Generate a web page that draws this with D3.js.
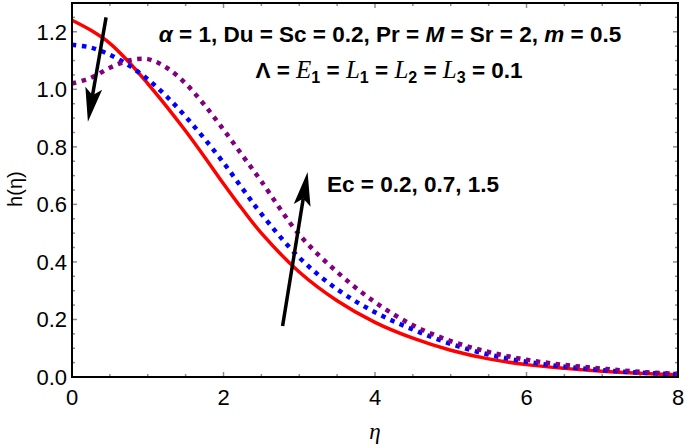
<!DOCTYPE html>
<html>
<head>
<meta charset="utf-8">
<script src="https://cdn.jsdelivr.net/npm/d3@7"></script>
<style>
  body { margin: 0; background: #fff; }
  text { font-family: "Liberation Sans", Arial, sans-serif; }
</style>
</head>
<body>
<div class="chart"></div>
<script>
// eta grid and h(eta) profiles for Ec = 0.2, 0.7, 1.5
var eta = [0, 0.25, 0.5, 0.75, 1, 1.25, 1.5, 1.75, 2, 2.25, 2.5, 3, 3.5, 4, 4.5, 5, 5.5, 6, 6.5, 7, 7.5, 8];
var hEc02 = [1.24, 1.205, 1.16, 1.095, 1.02, 0.94, 0.855, 0.765, 0.672, 0.583, 0.50, 0.365, 0.265, 0.19, 0.135, 0.093, 0.063, 0.043, 0.03, 0.02, 0.013, 0.008];
var hEc07 = [1.155, 1.145, 1.12, 1.083, 1.035, 0.975, 0.905, 0.828, 0.745, 0.655, 0.567, 0.415, 0.305, 0.225, 0.165, 0.115, 0.078, 0.053, 0.036, 0.024, 0.015, 0.01];
var hEc15 = [1.02, 1.04, 1.075, 1.10, 1.105, 1.075, 1.02, 0.945, 0.86, 0.77, 0.68, 0.495, 0.365, 0.26, 0.18, 0.125, 0.087, 0.06, 0.042, 0.029, 0.018, 0.011];

var xTicks = [0, 2, 4, 6, 8];
var yTicks = [0, 0.2, 0.4, 0.6, 0.8, 1.0, 1.2];

var margin = {top: 3, right: 7, bottom: 69, left: 72},
    width = 685 - margin.left - margin.right,
    height = 446 - margin.top - margin.bottom;

var svg = d3.select(".chart").append("svg")
    .attr("width", 685)
    .attr("height", 446)
  .append("g")
    .attr("transform", "translate(" + margin.left + "," + margin.top + ")");

var x = d3.scaleLinear().domain([0, 8]).range([0, width]);
var y = d3.scaleLinear().domain([0, 1.3]).range([height, 0]);

// minor + major ticks, all pointing inward
var xMinor = d3.range(0, 8.001, 0.5);
var yMinor = d3.range(0, 1.3001, 0.05);

function tickSet(g, vals, major, fn) {
  g.selectAll(null).data(vals).enter().append("line")
    .attr("stroke", "#8c8c8c")
    .attr("stroke-width", 1.5)
    .each(function(d) {
      var isMajor = major.some(function(m) { return Math.abs(m - d) < 1e-6; });
      fn(d3.select(this), d, isMajor ? 5 : 3);
    });
}

var ticks = svg.append("g");
tickSet(ticks, xMinor, xTicks, function(s, d, len) {
  s.attr("x1", x(d)).attr("x2", x(d)).attr("y1", height).attr("y2", height - len);
});
tickSet(ticks, xMinor, xTicks, function(s, d, len) {
  s.attr("x1", x(d)).attr("x2", x(d)).attr("y1", 0).attr("y2", len);
});
tickSet(ticks, yMinor, yTicks, function(s, d, len) {
  s.attr("x1", 0).attr("x2", len).attr("y1", y(d)).attr("y2", y(d));
});
tickSet(ticks, yMinor, yTicks, function(s, d, len) {
  s.attr("x1", width).attr("x2", width - len).attr("y1", y(d)).attr("y2", y(d));
});

// curves
var series = [
  {vals: hEc02, color: "#ff0000", dash: null, w: 3.5},
  {vals: hEc07, color: "#0000ff", dash: "4.5,5.5", w: 4.5},
  {vals: hEc15, color: "#800080", dash: "4.5,5.5", w: 4.5}
];

var line = d3.line()
    .x(function(d) { return x(d[0]); })
    .y(function(d) { return y(d[1]); })
    .curve(d3.curveCatmullRom.alpha(0.5));

series.forEach(function(s) {
  svg.append("path")
    .datum(eta.map(function(e, i) { return [e, s.vals[i]]; }))
    .attr("fill", "none")
    .attr("stroke", s.color)
    .attr("stroke-width", s.w)
    .attr("stroke-dasharray", s.dash)
    .attr("d", line);
});

// frame
svg.append("rect")
  .attr("x", 0).attr("y", 0)
  .attr("width", width).attr("height", height)
  .attr("fill", "none")
  .attr("stroke", "#000")
  .attr("stroke-width", 2);

// tick labels
svg.selectAll(".xl").data(xTicks).enter().append("text")
  .attr("x", function(d) { return x(d); })
  .attr("y", height + 28)
  .attr("text-anchor", "middle")
  .style("font-size", "22px")
  .text(function(d) { return d; });

svg.selectAll(".yl").data(yTicks).enter().append("text")
  .attr("x", -5)
  .attr("y", function(d) { return y(d) + 8; })
  .attr("text-anchor", "end")
  .style("font-size", "22px")
  .text(function(d) { return d.toFixed(1); });

// axis titles
svg.append("text")
  .attr("x", x(4))
  .attr("y", height + 62)
  .attr("text-anchor", "middle")
  .style("font-family", "'Liberation Serif', serif")
  .style("font-style", "italic")
  .style("font-size", "23px")
  .text("η");

svg.append("text")
  .attr("transform", "translate(" + (-50) + "," + (y(0.66) + 2) + ") rotate(-90)")
  .attr("text-anchor", "middle")
  .style("font-size", "20px")
  .text("h(η)");

// arrows (in data units)
var arrows = [
  {from: [0.45, 1.25], to: [0.21, 0.887]},
  {from: [2.78, 0.177], to: [3.11, 0.713]}
];

arrows.forEach(function(a) {
  var x1 = x(a.from[0]), y1 = y(a.from[1]), x2 = x(a.to[0]), y2 = y(a.to[1]);
  var ang = Math.atan2(y2 - y1, x2 - x1);
  var L = 34, hw = 8.5, notch = 27;
  var ux = Math.cos(ang), uy = Math.sin(ang), px = -uy, py = ux;
  svg.append("line")
    .attr("x1", x1).attr("y1", y1)
    .attr("x2", x2 - ux * notch).attr("y2", y2 - uy * notch)
    .attr("stroke", "#000").attr("stroke-width", 3.5);
  var pts = [
    [x2, y2],
    [x2 - ux * L + px * hw, y2 - uy * L + py * hw],
    [x2 - ux * notch, y2 - uy * notch],
    [x2 - ux * L - px * hw, y2 - uy * L - py * hw]
  ];
  svg.append("polygon")
    .attr("points", pts.map(function(p) { return p.join(","); }).join(" "))
    .attr("fill", "#000");
});

// annotations
var t1 = svg.append("text")
  .attr("x", 318).attr("y", 39)
  .attr("text-anchor", "middle")
  .style("font-size", "22.5px")
  .style("font-weight", "bold");
t1.append("tspan").style("font-style", "italic").text("α");
t1.append("tspan").text(" = 1, Du = Sc = 0.2, Pr = ");
t1.append("tspan").style("font-style", "italic").text("M");
t1.append("tspan").text(" = Sr = 2, ");
t1.append("tspan").style("font-style", "italic").text("m");
t1.append("tspan").text(" = 0.5");

var t2 = svg.append("text")
  .attr("x", 317).attr("y", 75)
  .attr("text-anchor", "middle")
  .style("font-size", "22.5px")
  .style("font-weight", "bold");
function serifIt(txt) {
  t2.append("tspan")
    .style("font-family", "'Liberation Serif', serif")
    .style("font-style", "italic")
    .style("font-weight", "normal")
    .style("font-size", "25px")
    .text(txt);
}
function sub(txt) {
  t2.append("tspan").attr("dy", 5).style("font-size", "16px").text(txt);
  t2.append("tspan").attr("dy", -5).text(" = ");
}
t2.append("tspan").text("Λ = ");
serifIt("E"); sub("1");
serifIt("L"); sub("1");
serifIt("L"); sub("2");
serifIt("L"); sub("3");
t2.append("tspan").text("0.1");

svg.append("text")
  .attr("x", 255).attr("y", 189)
  .style("font-size", "22.5px")
  .style("font-weight", "bold")
  .text("Ec = 0.2, 0.7, 1.5");
</script>
</body>
</html>
